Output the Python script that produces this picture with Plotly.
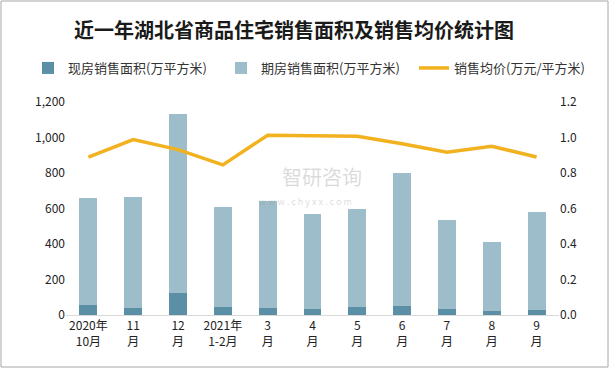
import plotly.graph_objects as go

categories = ["2020年<br>10月", "11<br>月", "12<br>月", "2021年<br>1-2月", "3<br>月", "4<br>月",
              "5<br>月", "6<br>月", "7<br>月", "8<br>月", "9<br>月"]
existing_area = [56, 41, 126, 45, 39, 34, 45, 51, 34, 23, 28]
total_area = [659, 665, 1132, 608, 642, 569, 597, 800, 535, 411, 580]
presale_area = [t - e for t, e in zip(total_area, existing_area)]
avg_price = [0.89, 0.988, 0.932, 0.846, 1.013, 1.01, 1.007, 0.965, 0.917, 0.951, 0.89]

left_ticks = [0, 200, 400, 600, 800, 1000, 1200]
left_tick_text = ["0", "200", "400", "600", "800", "1,000", "1,200"]
right_ticks = [0, 0.2, 0.4, 0.6, 0.8, 1.0, 1.2]
right_tick_text = ["0.0", "0.2", "0.4", "0.6", "0.8", "1.0", "1.2"]

FONT = "Noto Sans CJK SC"
W, H = 610, 369
PLOT_W, PLOT_H, ML, MB = 493, 213, 66, 54


def px_x(px):
    return (px - ML) / PLOT_W


def px_y(py):
    return (H - py - MB) / PLOT_H


fig = go.Figure()
fig.add_trace(go.Bar(x=categories, y=existing_area, name="现房销售面积(万平方米)",
                     marker=dict(color="#5a8fa5", line=dict(width=0)), width=0.4,
                     legend="legend", showlegend=True))
fig.add_trace(go.Bar(x=categories, y=presale_area, name="期房销售面积(万平方米)",
                     marker=dict(color="#9dbdca", line=dict(width=0)), width=0.4,
                     legend="legend2", showlegend=True))
fig.add_trace(go.Scatter(x=categories, y=avg_price, name="销售均价(万元/平方米)", yaxis="y2",
                         mode="lines", line=dict(color="#f2b21f", width=3.5),
                         legend="legend3", showlegend=True))

leg_common = dict(orientation="h", xanchor="left", xref="container", yref="container",
                  y=1 - 68 / H, yanchor="middle",
                  font=dict(size=13, color="#333333"), itemwidth=30,
                  bgcolor="rgba(0,0,0,0)", visible=True)

fig.update_layout(
    width=W, height=H,
    barmode="stack",
    showlegend=True,
    paper_bgcolor="white", plot_bgcolor="white",
    margin=dict(l=66, r=51, t=102, b=54, autoexpand=False),
    font=dict(family=FONT, size=12, color="#333333"),
    title=dict(text="<b>近一年湖北省商品住宅销售面积及销售均价统计图</b>",
               x=0.482, xanchor="center", y=0.916, yanchor="middle",
               font=dict(family=FONT, size=20, color="#1a1a1a")),
    legend=dict(x=28 / W, **leg_common),
    legend2=dict(x=221 / W, **leg_common),
    legend3=dict(x=414 / W, **leg_common),
    xaxis=dict(showgrid=False, showline=True, linecolor="#d9d9d9", linewidth=1,
               ticks="", tickfont=dict(size=12, color="#222222"), automargin=False),
    yaxis=dict(range=[0, 1200], tickvals=left_ticks, ticktext=left_tick_text,
               showgrid=False, zeroline=False, showline=False, ticks="",
               tickfont=dict(size=12, color="#222222"), automargin=False),
    yaxis2=dict(range=[0, 1.2], tickvals=right_ticks, ticktext=right_tick_text,
                overlaying="y", side="right", showgrid=False, zeroline=False,
                showline=False, ticks="", tickfont=dict(size=12, color="#222222"),
                automargin=False),
    shapes=[dict(type="rect", xref="paper", yref="paper",
                 x0=px_x(1), x1=px_x(608), y0=px_y(367), y1=px_y(1),
                 line=dict(color="#a6a6a6", width=1), fillcolor="rgba(0,0,0,0)", layer="below")],
    annotations=[
        dict(text="智研咨询", xref="paper", yref="paper", x=px_x(322), y=px_y(176),
             showarrow=False, font=dict(family=FONT, size=20, color="rgba(150,150,150,0.35)")),
        dict(text="w w w . c h y x x . c o m", xref="paper", yref="paper",
             x=px_x(305), y=px_y(201),
             showarrow=False, font=dict(family=FONT, size=9, color="rgba(150,150,150,0.35)")),
    ],
)

fig.write_html("out.html", config={"displayModeBar": False},
               post_script="document.body.style.margin='0';document.body.style.overflow='hidden';")
